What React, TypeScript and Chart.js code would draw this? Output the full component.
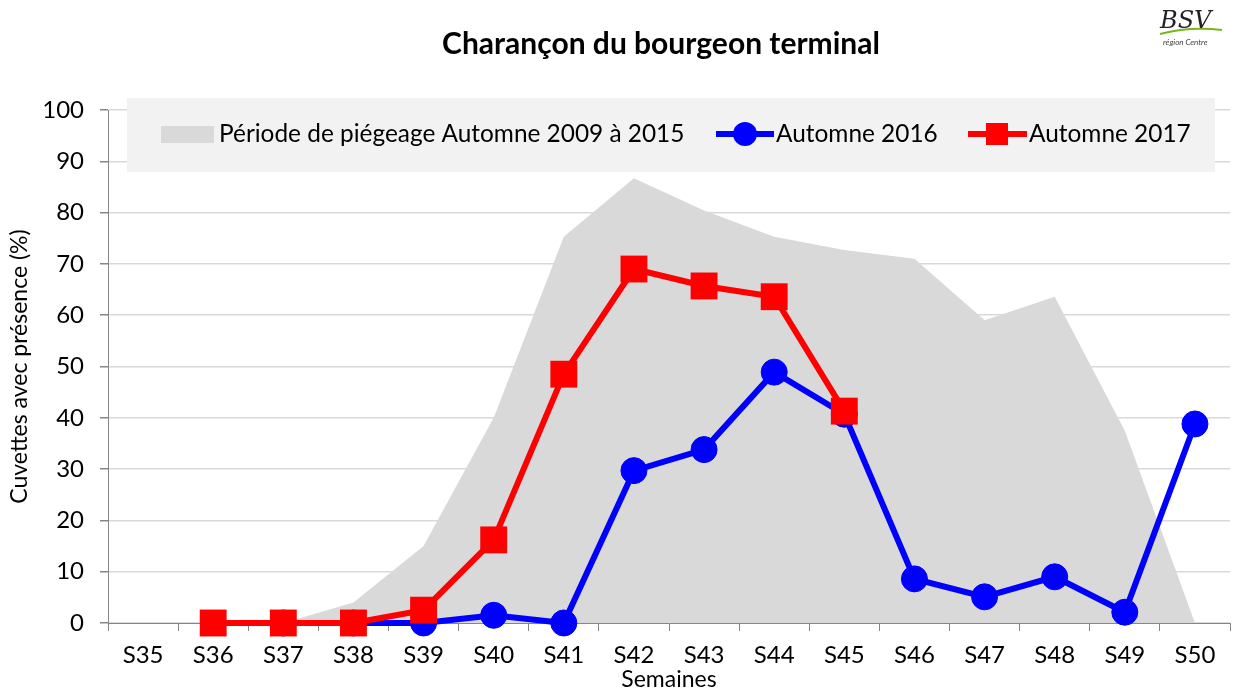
import React, { useEffect, useRef } from 'react';
import { Chart, registerables } from 'chart.js';

Chart.register(...registerables);

const chartTitle = 'Charançon du bourgeon terminal';
const weeks = ['S35', 'S36', 'S37', 'S38', 'S39', 'S40', 'S41', 'S42', 'S43', 'S44', 'S45', 'S46', 'S47', 'S48', 'S49', 'S50'];
const periode2009_2015 = [null, null, 0, 4, 15, 40, 75.3, 86.7, 80.4, 75.3, 72.7, 71, 59, 63.6, 37.5, 0];
const automne2016 = [null, null, 0, 0, 0, 1.5, 0, 29.7, 33.8, 48.9, 40.7, 8.6, 5.1, 9, 2.1, 38.8];
const automne2017 = [null, 0, 0, 0, 2.5, 16.2, 48.5, 69, 65.7, 63.6, 41.3, null, null, null, null, null];
const yTicks = { min: 0, max: 100, step: 10 };

const FONT = 'Lato, "Open Sans", "DejaVu Sans", sans-serif';
const GRAY_AREA = '#d9d9d9';
const BLUE = '#0000ff';
const RED = '#ff0000';
const AXIS = '#868686';

export default function App() {
  const ref = useRef<HTMLCanvasElement>(null);

  useEffect(() => {
    document.body.style.margin = '0';
    const canvas = ref.current!;

    const titlePlugin = {
      id: 'customTitle',
      afterDraw(chart: any) {
        const ctx = chart.ctx;
        ctx.save();
        ctx.fillStyle = '#000';
        ctx.font = `bold 30px ${FONT}`;
        ctx.textAlign = 'center';
        ctx.textBaseline = 'middle';
        ctx.fillText(chartTitle, 661, 44);
        // logo
        ctx.strokeStyle = '#7ab51d';
        ctx.lineWidth = 2;
        ctx.beginPath();
        ctx.moveTo(1160, 34);
        ctx.quadraticCurveTo(1190, 26, 1222, 30);
        ctx.stroke();
        ctx.fillStyle = '#222';
        ctx.font = `italic 24px "DejaVu Serif", serif`;
        ctx.textAlign = 'left';
        ctx.textBaseline = 'alphabetic';
        ctx.fillText('BSV', 1160, 28);
        ctx.font = `italic 8px ${FONT}`;
        ctx.fillStyle = '#444';
        ctx.fillText('région Centre', 1163, 45);
        ctx.restore();
      },
    };

    const legendPlugin = {
      id: 'boxLegend',
      beforeDatasetsDraw(chart: any) {
        const ctx = chart.ctx;
        const ds = chart.data.datasets;
        const cy = 134;
        ctx.save();
        ctx.fillStyle = '#f2f2f2';
        ctx.fillRect(127, 98, 1088, 74);
        ctx.font = `24.4px ${FONT}`;
        ctx.textBaseline = 'middle';
        ctx.textAlign = 'left';
        // area entry
        ctx.fillStyle = GRAY_AREA;
        ctx.fillRect(161, 126, 53, 17);
        ctx.fillStyle = '#000';
        ctx.fillText(ds[0].label, 219, cy);
        // blue entry
        ctx.strokeStyle = BLUE;
        ctx.lineWidth = 6;
        ctx.beginPath();
        ctx.moveTo(716, cy);
        ctx.lineTo(774, cy);
        ctx.stroke();
        ctx.fillStyle = BLUE;
        ctx.beginPath();
        ctx.arc(745, cy, 12, 0, Math.PI * 2);
        ctx.fill();
        ctx.fillStyle = '#000';
        ctx.fillText(ds[1].label, 776, cy);
        // red entry
        ctx.strokeStyle = RED;
        ctx.beginPath();
        ctx.moveTo(968, cy);
        ctx.lineTo(1027, cy);
        ctx.stroke();
        ctx.fillStyle = RED;
        ctx.fillRect(997 - 11, cy - 11, 22, 22);
        ctx.fillStyle = '#000';
        ctx.fillText(ds[2].label, 1029, cy);
        ctx.restore();
      },
    };

    const chart = new Chart(canvas, {
      type: 'line',
      data: {
        labels: weeks,
        datasets: [
          {
            label: 'Période de piégeage Automne 2009 à 2015',
            data: periode2009_2015,
            fill: 'origin',
            backgroundColor: GRAY_AREA,
            borderWidth: 0,
            borderColor: GRAY_AREA,
            pointRadius: 0,
            order: 3,
          },
          {
            label: 'Automne 2016',
            data: automne2016,
            borderColor: BLUE,
            backgroundColor: BLUE,
            borderWidth: 6,
            pointRadius: 13,
            pointBorderWidth: 1,
            pointStyle: 'circle',
            fill: false,
            clip: false,
            order: 2,
          },
          {
            label: 'Automne 2017',
            data: automne2017,
            borderColor: RED,
            backgroundColor: RED,
            borderWidth: 6,
            pointRadius: 19,
            pointBorderWidth: 0,
            pointStyle: 'rect',
            fill: false,
            clip: false,
            order: 1,
          },
        ],
      } as any,
      options: {
        responsive: false,
        animation: false,
        devicePixelRatio: 1,
        layout: { autoPadding: false, padding: { top: 110, right: 7, bottom: 0, left: 0 } },
        plugins: {
          legend: { display: false },
          title: { display: false },
          tooltip: { enabled: false },
        },
        scales: {
          x: {
            type: 'category',
            offset: true,
            grid: { display: true, drawOnChartArea: false, offset: true, tickLength: 8, color: AXIS },
            border: { color: AXIS, width: 1 },
            ticks: { font: { family: FONT, size: 24 }, color: '#000', padding: 10, maxRotation: 0, autoSkip: false },
            title: { display: true, text: 'Semaines', color: '#000', font: { family: FONT, size: 23, lineHeight: 1 }, padding: 0 },
            afterFit(s: any) { s.height = 68; s.paddingLeft = 0; s.paddingRight = 0; },
          },
          y: {
            min: yTicks.min,
            max: yTicks.max,
            ticks: { stepSize: yTicks.step, font: { family: FONT, size: 24 }, color: '#000', padding: 16 },
            grid: { color: '#d9d9d9', tickColor: AXIS, tickLength: 8, lineWidth: 1.5 },
            border: { color: AXIS, width: 1 },
            title: { display: true, text: 'Cuvettes avec présence (%)', color: '#000', font: { family: FONT, size: 23 }, padding: { top: 6, bottom: 0 } },
            afterFit(s: any) { s.width = 108; s.paddingTop = 0; s.paddingBottom = 0; },
          },
        },
      } as any,
      plugins: [titlePlugin, legendPlugin],
    });
    return () => chart.destroy();
  }, []);

  return (
    <div style={{ width: 1237, height: 691 }}>
      <canvas ref={ref} width={1237} height={691} style={{ display: 'block' }} />
    </div>
  );
}
